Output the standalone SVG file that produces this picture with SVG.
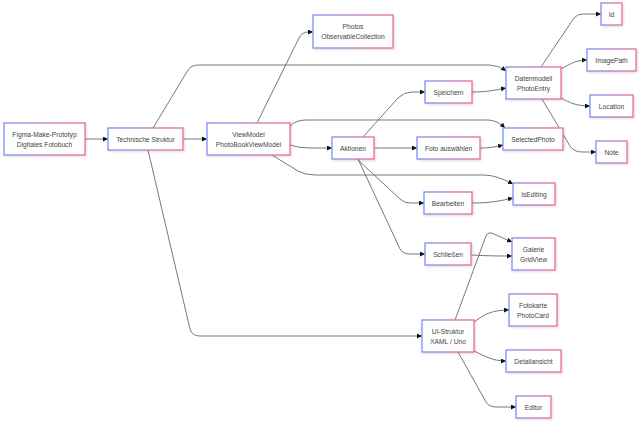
<svg xmlns="http://www.w3.org/2000/svg" width="640" height="422" viewBox="0 0 640 422">
<defs>
<linearGradient id="g" x1="0" y1="0" x2="1" y2="0">
<stop offset="0" stop-color="#7f8ff5"/>
<stop offset="1" stop-color="#ee6b93"/>
</linearGradient>
<filter id="sh" x="-10%" y="-10%" width="130%" height="140%">
<feDropShadow dx="1" dy="1" stdDeviation="0.8" flood-color="#000" flood-opacity="0.15"/>
</filter>
<marker id="ah" viewBox="0 0 10 10" refX="10" refY="5" markerWidth="5" markerHeight="5" markerUnits="userSpaceOnUse" orient="auto">
<path d="M0,0 L10,5 L0,10 z" fill="#111"/>
</marker>
<style>
.n rect{fill:#fff;stroke:url(#g);stroke-width:1.3;filter:url(#sh)}
.n text{font-family:"Liberation Sans",Arial,sans-serif;font-size:6.7px;fill:#444;text-anchor:middle;dominant-baseline:central}
.e path{fill:none;stroke:#555;stroke-width:0.8;marker-end:url(#ah)}
</style>
</defs>
<rect width="640" height="422" fill="#fff"/>
<g id="edges" class="e">
<path d="M85,139 L108,139"/>
<path d="M183,139 L207,139"/>
<path d="M153,128 L188,70 Q191,65 199,65 L489,65 Q498,65 506,71"/>
<path d="M148,150 L190,329 Q192,336 200,336 L422,336"/>
<path d="M257,123 L299,38 Q302,32 308,32 L313,32"/>
<path d="M290,126 Q296,120 306,120 L488,120 Q497,120 505,128"/>
<path d="M290,145 Q298,148 310,148 L332,148"/>
<path d="M272,155 L298,171 Q305,175 315,175 L484,175 Q496,175 513,184"/>
<path d="M363,137 L398,98 Q404,92 412,92 L425,92"/>
<path d="M374,148 L417,148"/>
<path d="M357,159 L400,199 Q404,203 410,203 L424,203"/>
<path d="M358,159 L400,249 Q403,254 410,254 L425,254"/>
<path d="M472,92 C488,92 495,90 506,88"/>
<path d="M480,148 C490,148 495,147 503,145"/>
<path d="M472,203 C490,203 500,201 513,198"/>
<path d="M471,255 C490,256 500,256 512,256"/>
<path d="M541,67 L574,18 Q577,14 583,14 L601,14"/>
<path d="M561,69 C570,64 576,60 587,60"/>
<path d="M561,98 C570,103 577,106 590,106"/>
<path d="M542,99 L570,146 Q574,152 582,152 L596,152"/>
<path d="M455,320 L486,236 Q488,231 494,234 L512,242"/>
<path d="M474,322 C485,314 492,310 509,310"/>
<path d="M474,351 C485,356 492,361 506,361"/>
<path d="M458,352 L486,402 Q489,407 496,407 L516,407"/>
</g>
<g id="n1" class="n"><rect x="4" y="123" width="81" height="32"/><text x="44.5" y="134">Figma-Make-Prototyp</text><text x="44.5" y="144">Digitales Fotobuch</text></g>
<g id="n2" class="n"><rect x="108" y="128" width="75" height="22"/><text x="145.5" y="139">Technische Struktur</text></g>
<g id="n3" class="n"><rect x="207" y="123" width="83" height="32"/><text x="248.5" y="134">ViewModel</text><text x="248.5" y="144">PhotoBookViewModel</text></g>
<g id="n4" class="n"><rect x="313" y="15" width="80" height="33"/><text x="353" y="26.5">Photos</text><text x="353" y="36.5">ObservableCollection</text></g>
<g id="n5" class="n"><rect x="506" y="67" width="55" height="32"/><text x="533.5" y="78">Datenmodell</text><text x="533.5" y="88">PhotoEntry</text></g>
<g id="n6" class="n"><rect x="422" y="320" width="52" height="32"/><text x="448" y="331">UI-Struktur</text><text x="448" y="341">XAML / Uno</text></g>
<g id="n7" class="n"><rect x="503" y="128" width="60" height="22"/><text x="533" y="139">SelectedPhoto</text></g>
<g id="n8" class="n"><rect x="332" y="137" width="42" height="22"/><text x="353" y="148">Aktionen</text></g>
<g id="n9" class="n"><rect x="513" y="183" width="42" height="22"/><text x="534" y="194">IsEditing</text></g>
<g id="n10" class="n"><rect x="425" y="81" width="47" height="22"/><text x="448.5" y="92">Speichern</text></g>
<g id="n11" class="n"><rect x="417" y="137" width="63" height="22"/><text x="448.5" y="148">Foto auswählen</text></g>
<g id="n12" class="n"><rect x="424" y="192" width="48" height="22"/><text x="448" y="203">Bearbeiten</text></g>
<g id="n13" class="n"><rect x="425" y="243" width="46" height="22"/><text x="448" y="254">Schließen</text></g>
<g id="n14" class="n"><rect x="601" y="3" width="21" height="22"/><text x="611.5" y="14">Id</text></g>
<g id="n15" class="n"><rect x="587" y="49" width="49" height="22"/><text x="611.5" y="60">ImagePath</text></g>
<g id="n16" class="n"><rect x="590" y="95" width="43" height="22"/><text x="611.5" y="106">Location</text></g>
<g id="n17" class="n"><rect x="596" y="141" width="31" height="22"/><text x="611.5" y="152">Note</text></g>
<g id="n18" class="n"><rect x="512" y="238" width="43" height="32"/><text x="533.5" y="249">Galerie</text><text x="533.5" y="259">GridView</text></g>
<g id="n19" class="n"><rect x="509" y="294" width="48" height="32"/><text x="533" y="305">Fotokarte</text><text x="533" y="315">PhotoCard</text></g>
<g id="n20" class="n"><rect x="506" y="350" width="55" height="22"/><text x="533.5" y="361">Detailansicht</text></g>
<g id="n21" class="n"><rect x="516" y="396" width="35" height="22"/><text x="533.5" y="407">Editor</text></g>
</svg>
